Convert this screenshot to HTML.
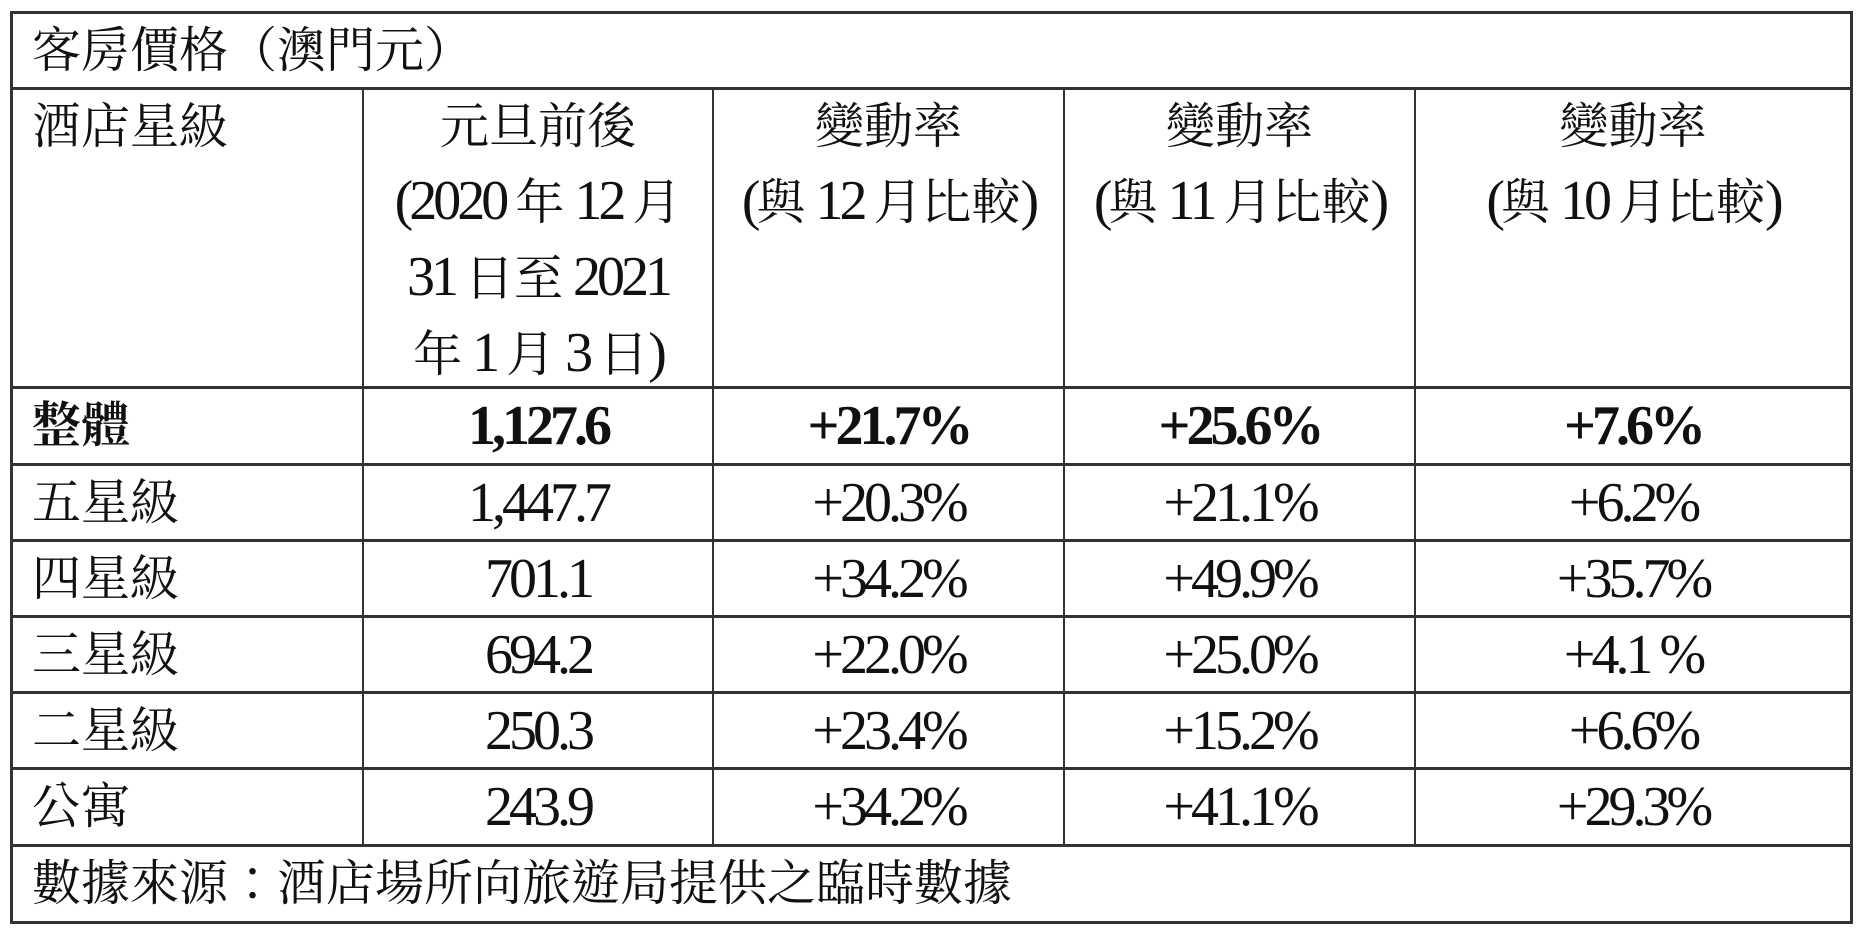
<!DOCTYPE html>
<html><head><meta charset="utf-8"><style>
body{margin:0;width:1863px;height:933px;background:#fff;position:relative;overflow:hidden;font-family:"Liberation Serif","Noto Serif CJK TC","Noto Serif CJK SC",serif;color:#111}
.l{position:absolute;background:#333}
.t{position:absolute;font-size:49px;line-height:74px;white-space:nowrap;}
.c{text-align:center}
.n{font-size:56px;letter-spacing:-4px}
b{font-weight:bold}
</style></head><body>
<div class="l" style="left:10px;top:11px;width:1843px;height:3px"></div>
<div class="l" style="left:10px;top:921px;width:1843px;height:3px"></div>
<div class="l" style="left:10px;top:11px;width:3px;height:913px"></div>
<div class="l" style="left:1850px;top:11px;width:3px;height:913px"></div>
<div class="l" style="left:10px;top:87px;width:1843px;height:3px"></div>
<div class="l" style="left:10px;top:386px;width:1843px;height:3px"></div>
<div class="l" style="left:10px;top:463px;width:1843px;height:3px"></div>
<div class="l" style="left:10px;top:539px;width:1843px;height:3px"></div>
<div class="l" style="left:10px;top:615px;width:1843px;height:3px"></div>
<div class="l" style="left:10px;top:691px;width:1843px;height:3px"></div>
<div class="l" style="left:10px;top:767px;width:1843px;height:3px"></div>
<div class="l" style="left:10px;top:844px;width:1843px;height:3px"></div>
<div class="l" style="left:362px;top:88px;width:2px;height:757px"></div>
<div class="l" style="left:712px;top:88px;width:2px;height:757px"></div>
<div class="l" style="left:1063px;top:88px;width:2px;height:757px"></div>
<div class="l" style="left:1414px;top:88px;width:2px;height:757px"></div>

<div class="t" style="left:32px;top:14px">客房價格（澳門元）</div>
<div class="t" style="left:32px;top:90px">酒店星級</div>

<div class="t c" style="left:363px;width:350px;top:90px">元旦前後<br><span class="n">(2020 </span>年<span class="n"> 12 </span>月<br><span class="n">31 </span>日至<span class="n"> 2021</span><br>年<span class="n"> 1 </span>月<span class="n"> 3 </span>日<span class="n">)</span></div>
<div class="t c" style="left:713px;width:351px;top:90px">變動率<br><span class="n">(</span>與<span class="n"> 12 </span>月比較<span class="n">)</span></div>
<div class="t c" style="left:1064px;width:351px;top:90px">變動率<br><span class="n">(</span>與<span class="n"> 11 </span>月比較<span class="n">)</span></div>
<div class="t c" style="left:1415px;width:436px;top:90px">變動率<br><span class="n">(</span>與<span class="n"> 10 </span>月比較<span class="n">)</span></div>

<div class="t" style="left:32px;top:389px"><b>整體</b></div>
<div class="t" style="left:32px;top:466px">五星級</div>
<div class="t" style="left:32px;top:542px">四星級</div>
<div class="t" style="left:32px;top:618px">三星級</div>
<div class="t" style="left:32px;top:694px">二星級</div>
<div class="t" style="left:32px;top:770px">公寓</div>

<div class="t c n" style="left:363px;width:350px;top:389px"><b>1,127.6</b></div>
<div class="t c n" style="left:363px;width:350px;top:466px">1,447.7</div>
<div class="t c n" style="left:363px;width:350px;top:542px">701.1</div>
<div class="t c n" style="left:363px;width:350px;top:618px">694.2</div>
<div class="t c n" style="left:363px;width:350px;top:694px">250.3</div>
<div class="t c n" style="left:363px;width:350px;top:770px">243.9</div>

<div class="t c n" style="left:713px;width:351px;top:389px"><b>+21.7%</b></div>
<div class="t c n" style="left:713px;width:351px;top:466px">+20.3%</div>
<div class="t c n" style="left:713px;width:351px;top:542px">+34.2%</div>
<div class="t c n" style="left:713px;width:351px;top:618px">+22.0%</div>
<div class="t c n" style="left:713px;width:351px;top:694px">+23.4%</div>
<div class="t c n" style="left:713px;width:351px;top:770px">+34.2%</div>

<div class="t c n" style="left:1064px;width:351px;top:389px"><b>+25.6%</b></div>
<div class="t c n" style="left:1064px;width:351px;top:466px">+21.1%</div>
<div class="t c n" style="left:1064px;width:351px;top:542px">+49.9%</div>
<div class="t c n" style="left:1064px;width:351px;top:618px">+25.0%</div>
<div class="t c n" style="left:1064px;width:351px;top:694px">+15.2%</div>
<div class="t c n" style="left:1064px;width:351px;top:770px">+41.1%</div>

<div class="t c n" style="left:1415px;width:436px;top:389px"><b>+7.6%</b></div>
<div class="t c n" style="left:1415px;width:436px;top:466px">+6.2%</div>
<div class="t c n" style="left:1415px;width:436px;top:542px">+35.7%</div>
<div class="t c n" style="left:1415px;width:436px;top:618px">+4.1 %</div>
<div class="t c n" style="left:1415px;width:436px;top:694px">+6.6%</div>
<div class="t c n" style="left:1415px;width:436px;top:770px">+29.3%</div>

<div class="t" style="left:32px;top:847px">數據來源：酒店場所向旅遊局提供之臨時數據</div>
</body></html>
